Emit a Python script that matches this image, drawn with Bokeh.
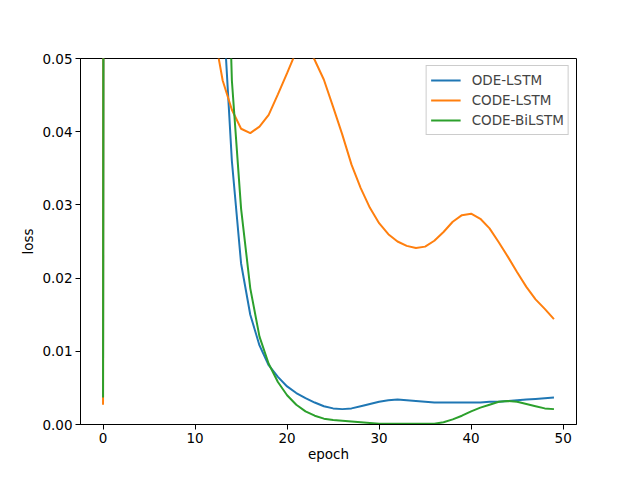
from bokeh.plotting import figure
from bokeh.embed import file_html
from bokeh.resources import INLINE
from bokeh.models import FixedTicker, NumeralTickFormatter, Range1d, Legend, LegendItem

epochs = list(range(50))

ode_lstm = [0.009, 1.2, 0.9, 0.7, 0.5, 0.4, 0.3, 0.25, 0.2, 0.15, 0.12, 0.1, 0.08,
            0.058, 0.036, 0.022, 0.015, 0.0108, 0.0081, 0.0065, 0.0052, 0.0043, 0.0036,
            0.0030, 0.0025, 0.0022, 0.0021, 0.0022, 0.0025, 0.0028, 0.0031, 0.0033, 0.0034,
            0.0033, 0.0032, 0.0031, 0.0030, 0.0030, 0.0030, 0.0030, 0.0030, 0.0030, 0.0031,
            0.0031, 0.0032, 0.0033, 0.0034, 0.0035, 0.0036, 0.0037]

code_lstm = [0.0027, 1.5, 1.1, 0.8, 0.6, 0.45, 0.35, 0.28, 0.2, 0.14, 0.1, 0.07, 0.054,
             0.047, 0.043, 0.0404, 0.0398, 0.0407, 0.0423, 0.0451, 0.048, 0.051, 0.052,
             0.0498, 0.0471, 0.0434, 0.0396, 0.0355, 0.0323, 0.0296, 0.0275, 0.0260, 0.0250,
             0.0244, 0.0241, 0.0243, 0.0251, 0.0263, 0.0277, 0.0286, 0.0288, 0.0281, 0.0268,
             0.0249, 0.0229, 0.0208, 0.0188, 0.0171, 0.0158, 0.0144]

code_bilstm = [0.0037, 1.3, 1.0, 0.75, 0.55, 0.42, 0.33, 0.26, 0.21, 0.17, 0.14, 0.12, 0.1,
               0.09, 0.047, 0.0295, 0.0186, 0.012, 0.0083, 0.0058, 0.0040, 0.0027, 0.0018,
               0.0012, 0.0008, 0.0006, 0.0005, 0.0004, 0.0003, 0.0002, 0.0001, 0.0001, 0.0001,
               0.0001, 0.0001, 0.0001, 0.0001, 0.0003, 0.0007, 0.0012, 0.0018, 0.0023, 0.0027,
               0.0031, 0.0032, 0.0031, 0.0028, 0.0025, 0.0022, 0.0021]

series_names = ["ODE-LSTM", "CODE-LSTM", "CODE-BiLSTM"]
colors = ["#1f77b4", "#ff7f0e", "#2ca02c"]
x_ticks = [0, 10, 20, 30, 40, 50]
y_ticks = [0.0, 0.01, 0.02, 0.03, 0.04, 0.05]

p = figure(width=624, height=464, output_backend="svg", toolbar_location=None,
           x_range=Range1d(-2.45, 51.45), y_range=Range1d(0, 0.05))
p.min_border_left = 80
p.min_border_right = 48
p.min_border_top = 58
p.min_border_bottom = 37
p.background_fill_color = "white"
p.border_fill_color = "white"
p.outline_line_color = "black"
p.outline_line_alpha = 1
p.outline_line_width = 1
p.grid.visible = False

items = []
for name, ys, c in zip(series_names, [ode_lstm, code_lstm, code_bilstm], colors):
    r = p.line(epochs, ys, line_color=c, line_width=2)
    items.append(LegendItem(label=name, renderers=[r]))

legend = Legend(items=items, location="top_right")
legend.label_text_font = "DejaVu Sans"
legend.label_text_font_size = "13.5px"
legend.border_line_color = "#cccccc"
legend.border_line_alpha = 1
legend.background_fill_alpha = 0.8
legend.margin = 7
legend.padding = 4
legend.spacing = 0
legend.glyph_width = 30
legend.glyph_height = 20
legend.label_height = 20
legend.label_standoff = 11
p.add_layout(legend, "center")

for ax in [p.xaxis[0], p.yaxis[0]]:
    ax.axis_line_color = "black"
    ax.major_tick_line_color = "black"
    ax.minor_tick_line_color = None
    ax.major_tick_out = 5
    ax.major_tick_in = 0
    ax.major_label_standoff = 3
    ax.major_label_text_font = "DejaVu Sans"
    ax.major_label_text_font_size = "13.5px"
    ax.major_label_text_color = "black"
    ax.axis_label_text_font = "DejaVu Sans"
    ax.axis_label_text_font_size = "13.5px"
    ax.axis_label_text_font_style = "normal"
    ax.axis_label_text_color = "black"

p.xaxis.ticker = FixedTicker(ticks=x_ticks)
p.yaxis.ticker = FixedTicker(ticks=y_ticks)
p.yaxis.formatter = NumeralTickFormatter(format="0.00")
p.xaxis.axis_label = "epoch"
p.yaxis.axis_label = "loss"
p.xaxis.axis_label_standoff = 0
p.yaxis.axis_label_standoff = 3

open("out.html", "w").write(file_html(p, INLINE))
